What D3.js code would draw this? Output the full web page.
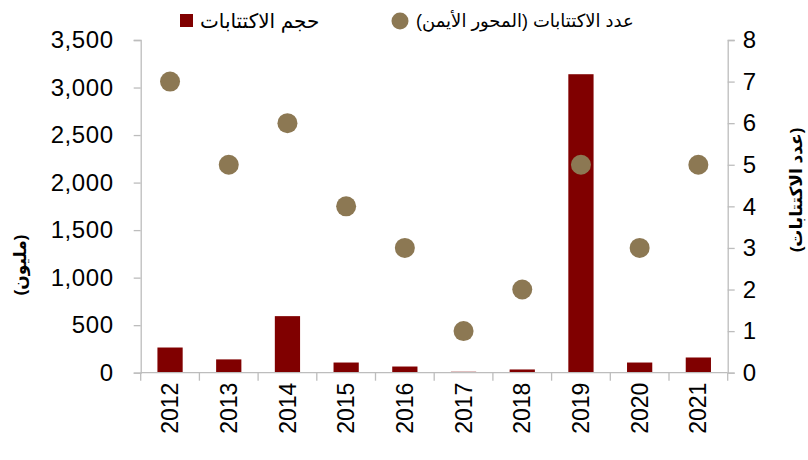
<!DOCTYPE html>
<html>
<head>
<meta charset="utf-8">
<script src="https://cdn.jsdelivr.net/npm/d3@7"></script>
<style>
  html, body { margin: 0; padding: 0; background: #fff; }
  svg { display: block; font-family: "Liberation Sans", Arial, "DejaVu Sans", sans-serif; }
</style>
</head>
<body>
<svg id="chart" width="808" height="460"></svg>
<script>
// IPO volume (millions) and number of IPOs per year
const years = ["2012", "2013", "2014", "2015", "2016", "2017", "2018", "2019", "2020", "2021"];
const volumes = [265, 140, 595, 107, 65, 10, 34, 3140, 107, 160];
const counts = [7, 5, 6, 4, 3, 1, 2, 5, 3, 5];
const leftTicks = [0, 500, 1000, 1500, 2000, 2500, 3000, 3500];
const rightTicks = [0, 1, 2, 3, 4, 5, 6, 7, 8];
const legendVolume = "حجم الاكتتابات";
const legendCount = "عدد الاكتتابات (المحور الأيمن)";
const leftTitle = "(مليون)";
const rightTitle = "(عدد الاكتتابات)";

const barColor = "#800000";
const dotColor = "#8c7853";
const axisColor = "#bdbdbd";

const svg = d3.select("#chart");
const plot = { left: 140.7, right: 727.7, top: 40, bottom: 372.7 };

const x = d3.scaleBand().domain(years).range([plot.left, plot.right]).padding(0);
const yL = d3.scaleLinear().domain([0, 3500]).range([plot.bottom, plot.top]);
const yR = d3.scaleLinear().domain([0, 8]).range([plot.bottom, plot.top]);

const fmt = d3.format(",");

// Left axis
const leftAxis = svg.append("g")
  .attr("transform", `translate(${plot.left},0)`)
  .call(d3.axisLeft(yL).tickValues(leftTicks).tickFormat(fmt).tickSize(7).tickPadding(20));
leftAxis.selectAll("text").attr("font-size", 24).attr("letter-spacing", 0.6).attr("fill", "#000");

// Right axis
const rightAxis = svg.append("g")
  .attr("transform", `translate(${plot.right},0)`)
  .call(d3.axisRight(yR).tickValues(rightTicks).tickSize(7).tickPadding(8));
rightAxis.selectAll("text").attr("font-size", 24).attr("fill", "#000");

[leftAxis, rightAxis].forEach(a => {
  a.select(".domain").attr("stroke", axisColor).attr("stroke-width", 1.3);
  a.selectAll(".tick line").attr("stroke", axisColor).attr("stroke-width", 1.3);
  a.attr("font-family", null);
});

// Bars
const bw = x.bandwidth() * 0.43;
svg.append("g").selectAll("rect")
  .data(years)
  .join("rect")
  .attr("x", (d) => x(d) + (x.bandwidth() - bw) / 2)
  .attr("y", (d, i) => yL(volumes[i]))
  .attr("width", bw)
  .attr("height", (d, i) => plot.bottom - yL(volumes[i]))
  .attr("fill", barColor);

// Category axis with ticks between categories
const xAxis = svg.append("g");
xAxis.append("line")
  .attr("x1", plot.left).attr("x2", plot.right)
  .attr("y1", plot.bottom).attr("y2", plot.bottom)
  .attr("stroke", axisColor).attr("stroke-width", 1.3);
const bounds = years.map(d => x(d)).concat([plot.right]);
xAxis.selectAll("line.tk")
  .data(bounds)
  .join("line")
  .attr("class", "tk")
  .attr("x1", d => d).attr("x2", d => d)
  .attr("y1", plot.bottom).attr("y2", plot.bottom + 8)
  .attr("stroke", axisColor).attr("stroke-width", 1.3);
xAxis.selectAll("text")
  .data(years)
  .join("text")
  .attr("transform", d => `translate(${x(d) + x.bandwidth() / 2},${plot.bottom + 10}) rotate(-90)`)
  .attr("text-anchor", "end")
  .attr("dy", "0.35em")
  .attr("font-size", 23)
  .attr("fill", "#000")
  .text(d => d);

// Dots (right axis)
svg.append("g").selectAll("circle")
  .data(years)
  .join("circle")
  .attr("cx", d => x(d) + x.bandwidth() / 2)
  .attr("cy", (d, i) => yR(counts[i]))
  .attr("r", 10)
  .attr("fill", dotColor);

// Axis titles
svg.append("text")
  .attr("transform", "translate(20,265) rotate(-90)")
  .attr("text-anchor", "middle")
  .attr("dy", "0.35em")
  .attr("font-size", 17)
  .attr("font-weight", "bold")
  .text(leftTitle);
svg.append("text")
  .attr("transform", "translate(796,190) rotate(-90)")
  .attr("text-anchor", "middle")
  .attr("dy", "0.35em")
  .attr("font-size", 17)
  .attr("font-weight", "bold")
  .text(rightTitle);

// Legend
const legend = svg.append("g");
legend.append("rect")
  .attr("x", 180).attr("y", 14).attr("width", 13).attr("height", 13)
  .attr("fill", barColor);
legend.append("text")
  .attr("x", 200).attr("y", 21).attr("dy", "0.35em")
  .attr("text-anchor", "start")
  .attr("font-size", 20)
  .text(legendVolume);
legend.append("circle")
  .attr("cx", 400).attr("cy", 21).attr("r", 8.5)
  .attr("fill", dotColor);
legend.append("text")
  .attr("x", 416).attr("y", 21).attr("dy", "0.35em")
  .attr("text-anchor", "start")
  .attr("font-size", 18)
  .text(legendCount);
</script>
</body>
</html>
